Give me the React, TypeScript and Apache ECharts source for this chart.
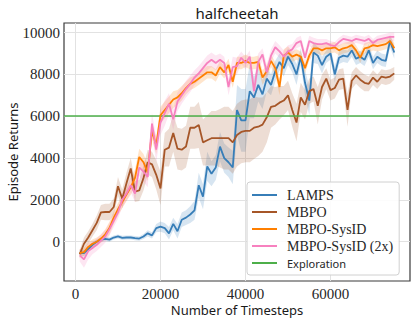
import React, { useEffect, useRef } from "react";
import * as echarts from "echarts";

const TIMESTEPS = [
  1000, 2000, 3000, 4000, 5000, 6000, 7000, 8000, 9000, 10000,
  11000, 12000, 13000, 14000, 15000, 16000, 17000, 18000, 19000, 20000,
  21000, 22000, 23000, 24000, 25000, 26000, 27000, 28000, 29000, 30000,
  31000, 32000, 33000, 34000, 35000, 36000, 37000, 38000, 39000, 40000,
  41000, 42000, 43000, 44000, 45000, 46000, 47000, 48000, 49000, 50000,
  51000, 52000, 53000, 54000, 55000, 56000, 57000, 58000, 59000, 60000,
  61000, 62000, 63000, 64000, 65000, 66000, 67000, 68000, 69000, 70000,
  71000, 72000, 73000, 74000, 75000,
];

const LAMPS = [
  -550, -550, -350, -150, 0, 100, 130, 100, 200, 250,
  180, 200, 200, 170, 150, 250, 400, 300, 650, 720,
  650, 400, 850, 500, 1050, 1150, 1300, 1500, 2700, 2150,
  3600, 3250, 3550, 4550, 4000, 3800, 3550, 6300, 5800, 5800,
  7200, 6900, 7500, 7050, 7800, 7500, 8150, 8600, 8300, 8850,
  8500, 8000, 8850, 7600, 6750, 9050, 8900, 8450, 8850, 9000,
  8000, 8800, 8900, 8850, 9150, 8750, 8850, 8700, 9150, 8550,
  8850, 8700, 8650, 9600, 9050,
];
const LAMPS_SPREAD = [
  150, 150, 150, 120, 100, 100, 100, 100, 100, 100,
  100, 100, 100, 100, 100, 120, 150, 150, 200, 250,
  250, 300, 300, 350, 350, 350, 400, 450, 600, 600,
  700, 600, 600, 700, 700, 700, 800, 1200, 1500, 1500,
  1300, 1000, 800, 700, 600, 500, 500, 400, 400, 400,
  400, 500, 400, 600, 700, 500, 400, 400, 300, 300,
  400, 300, 300, 300, 300, 300, 300, 300, 300, 300,
  300, 300, 300, 300, 300,
];

const MBPO = [
  -600, -100, 200, 550, 900, 1400, 1420, 1420, 1660, 2650,
  2050, 2800, 3500, 2400, 2450, 3050, 3800, 3700, 3200, 2550,
  4400, 4500, 5200, 4450, 4400, 4550, 5450, 5450, 5580, 4750,
  4850, 4950, 4950, 4950, 4950, 4950, 4750, 5100, 5250, 5300,
  5300, 5450, 5500, 5600, 5950, 6450, 6500, 6650, 6750, 7000,
  6300, 5700, 6900, 6550, 7200, 7300, 6500, 7400, 7800, 7250,
  7350, 7750, 7800, 6300, 7700, 7950, 7750, 7600, 7550, 7850,
  7650, 7900, 7850, 7900, 8050,
];
const MBPO_SPREAD = [
  200, 300, 300, 300, 350, 350, 400, 400, 400, 450,
  450, 500, 500, 500, 500, 600, 600, 600, 700, 800,
  800, 900, 900, 1000, 1000, 1000, 1000, 1000, 1100, 1100,
  1200, 1300, 1300, 1400, 1500, 1500, 1500, 1500, 1500, 1500,
  1500, 1500, 1400, 1300, 1200, 1000, 900, 800, 700, 700,
  800, 900, 700, 700, 600, 600, 900, 600, 500, 500,
  500, 500, 500, 800, 400, 400, 400, 400, 350, 350,
  350, 350, 350, 350, 300,
];

const SYSID = [
  -550, -500, -250, -100, 0, 150, 350, 650, 1150, 1550,
  1900, 2250, 2600, 3050, 4050, 3800, 3300, 5300, 4600, 6050,
  6300, 6550, 6800, 6900, 7100, 7350, 7550, 7650, 7800, 7950,
  8100, 8100, 7950, 8350, 8100, 8450, 7650, 8550, 8550, 8650,
  8550, 8550, 8600, 7850, 8150, 8650, 8300, 7400, 8900, 9050,
  8850, 8950, 8850, 8300, 8900, 9250, 9250, 9150, 9250, 9250,
  9300, 9150, 9250, 9300, 9400, 9150, 8800, 9250, 9300, 9400,
  9350, 9400, 9450, 9600, 9250,
];
const SYSID_SPREAD = [
  200, 200, 200, 200, 200, 200, 250, 300, 300, 300,
  300, 300, 350, 400, 400, 400, 400, 400, 400, 400,
  400, 400, 400, 350, 350, 300, 300, 300, 300, 300,
  300, 300, 300, 300, 300, 300, 300, 300, 300, 300,
  300, 300, 300, 350, 300, 300, 300, 400, 300, 300,
  250, 250, 250, 250, 250, 250, 250, 250, 250, 250,
  250, 250, 250, 250, 250, 250, 250, 250, 250, 250,
  250, 250, 250, 250, 250,
];

const SYSID_2X = [
  -650, -850, -450, -300, -150, 50, 250, 600, 1000, 1400,
  2000, 2300, 2700, 2300, 3550, 3350, 3100, 5650, 4400, 5700,
  6150, 6600, 5850, 6700, 7000, 7300, 7550, 7850, 8050, 8300,
  8550, 8700, 8550, 8700, 8550, 7400, 8350, 8400, 8800, 8550,
  8850, 7200, 8600, 8950, 8100, 8900, 9300, 9100, 8850, 9100,
  9200, 9500, 9600, 8800, 9600, 9500, 9450, 9450, 9500, 9400,
  9350, 9550, 9700, 9650, 9600, 9700, 9650, 9600, 9700, 9500,
  9650, 9700, 9750, 9800, 9800,
];
const SYSID_2X_SPREAD = [
  300, 400, 400, 300, 300, 300, 300, 300, 300, 300,
  350, 350, 350, 400, 400, 500, 500, 500, 600, 600,
  600, 500, 500, 450, 400, 400, 400, 350, 350, 350,
  350, 350, 350, 300, 300, 400, 500, 400, 300, 300,
  300, 500, 400, 300, 400, 300, 300, 300, 300, 300,
  250, 250, 250, 300, 250, 250, 250, 250, 200, 200,
  200, 200, 200, 200, 200, 200, 200, 200, 200, 200,
  200, 200, 200, 200, 200,
];

const EXPLORATION = 6000;

const X_TICKS = [0, 20000, 40000, 60000];
const Y_TICKS = [0, 2000, 4000, 6000, 8000, 10000];

const SERIES = [
  { name: "LAMPS", mean: LAMPS, spread: LAMPS_SPREAD, color: "#377eb8" },
  { name: "MBPO", mean: MBPO, spread: MBPO_SPREAD, color: "#a65628" },
  { name: "MBPO-SysID", mean: SYSID, spread: SYSID_SPREAD, color: "#ff7f00" },
  { name: "MBPO-SysID (2x)", mean: SYSID_2X, spread: SYSID_2X_SPREAD, color: "#f781bf" },
];
const EXPLORATION_COLOR = "#4daf4a";

const SERIF = '"Liberation Serif", "DejaVu Serif", serif';
const SANS = '"Noto Sans", "DejaVu Sans", sans-serif';

function bandSeries(mean: number[], spread: number[], color: string) {
  return {
    type: "custom",
    silent: true,
    z: 1,
    clip: true,
    data: [[TIMESTEPS[0], mean[0]]],
    encode: { x: 0, y: 1 },
    renderItem: (_params: any, api: any) => {
      const upper = TIMESTEPS.map((t, i) => api.coord([t, mean[i] + spread[i]]));
      const lower = TIMESTEPS.map((t, i) => api.coord([t, mean[i] - spread[i]])).reverse();
      return {
        type: "polygon",
        shape: { points: upper.concat(lower) },
        style: { fill: color, opacity: 0.2 },
      };
    },
  };
}

export default function App() {
  const ref = useRef<HTMLDivElement>(null);

  useEffect(() => {
    if (!ref.current) return;
    const chart = echarts.init(ref.current, undefined, { renderer: "svg" });

    const gridLines = {
      type: "line",
      data: [],
      silent: true,
      z: 0,
      markLine: {
        silent: true,
        symbol: "none",
        z: 0,
        label: { show: false },
        lineStyle: { color: "#e2e2e2", width: 1, type: "solid" },
        data: [
          ...Y_TICKS.map((v) => ({ yAxis: v })),
          ...X_TICKS.map((v) => ({ xAxis: v })),
        ],
      },
    };
    const bands = SERIES.map((s) => bandSeries(s.mean, s.spread, s.color));
    const lines = SERIES.map((s, k) => ({
      type: "line",
      name: s.name,
      color: s.color,
      showSymbol: false,
      symbol: "none",
      z: 3 + k,
      lineStyle: { width: 1.8, color: s.color },
      data: TIMESTEPS.map((t, i) => [t, s.mean[i]]),
    }));
    const exploration = {
      type: "line",
      name: "Exploration",
      color: EXPLORATION_COLOR,
      data: [],
      z: 8,
      markLine: {
        silent: true,
        symbol: "none",
        label: { show: false },
        lineStyle: { color: EXPLORATION_COLOR, width: 1.5, type: "solid" },
        data: [{ yAxis: EXPLORATION }],
      },
    };

    chart.setOption({
      animation: false,
      backgroundColor: "#ffffff",
      grid: {
        left: 64,
        right: 6,
        top: 23,
        bottom: 42,
        show: true,
        borderColor: "#3a3a3a",
        borderWidth: 1.2,
        backgroundColor: "transparent",
      },
      xAxis: {
        type: "value",
        min: -2700,
        max: 78700,
        interval: 100,
        axisLine: { show: false },
        axisTick: { show: false },
        splitLine: { show: false },
        axisLabel: {
          showMinLabel: false,
          showMaxLabel: false,
          margin: 5,
          color: "#262626",
          fontFamily: SERIF,
          fontSize: 15,
          formatter: (v: number) => (X_TICKS.includes(Math.round(v)) ? String(Math.round(v)) : ""),
        },
      },
      yAxis: {
        type: "value",
        min: -1880,
        max: 10460,
        interval: 40,
        axisLine: { show: false },
        axisTick: { show: false },
        splitLine: { show: false },
        axisLabel: {
          showMinLabel: false,
          showMaxLabel: false,
          margin: 4,
          color: "#262626",
          fontFamily: SERIF,
          fontSize: 15,
          formatter: (v: number) => (Y_TICKS.includes(Math.round(v)) ? String(Math.round(v)) : ""),
        },
      },
      legend: {
        z: 20,
        orient: "vertical",
        left: 247,
        top: 182,
        padding: [5, 6, 4, 5],
        icon: "rect",
        itemWidth: 25,
        itemHeight: 2,
        itemGap: 1,
        backgroundColor: "rgba(255,255,255,0.9)",
        borderColor: "#d0d0d0",
        borderWidth: 1,
        borderRadius: 3,
        data: [
          ...SERIES.map((s) => ({
            name: s.name,
            textStyle: { fontFamily: SERIF, fontSize: 14, color: "#262626", lineHeight: 16, padding: [0, 0, 0, 5] },
          })),
          {
            name: "Exploration",
            textStyle: { fontFamily: SANS, fontSize: 11, color: "#262626", lineHeight: 16, padding: [0, 0, 0, 5] },
          },
        ],
      },
      graphic: [
        {
          type: "text",
          x: 237,
          y: 13,
          style: {
            text: "halfcheetah",
            font: `15px ${SANS}`,
            fill: "#1a1a1a",
            align: "center",
            verticalAlign: "middle",
          },
        },
        {
          type: "text",
          x: 237,
          y: 310,
          style: {
            text: "Number of Timesteps",
            font: `13px ${SANS}`,
            fill: "#1a1a1a",
            align: "center",
            verticalAlign: "middle",
          },
        },
        {
          type: "text",
          x: 13,
          y: 152,
          rotation: Math.PI / 2,
          style: {
            text: "Episode Returns",
            font: `13px ${SANS}`,
            fill: "#1a1a1a",
            align: "center",
            verticalAlign: "middle",
          },
        },
      ],
      series: [gridLines, ...bands, ...lines, exploration],
    });

    return () => chart.dispose();
  }, []);

  return <div ref={ref} style={{ position: "fixed", left: 0, top: 0, width: 416, height: 323 }} />;
}
